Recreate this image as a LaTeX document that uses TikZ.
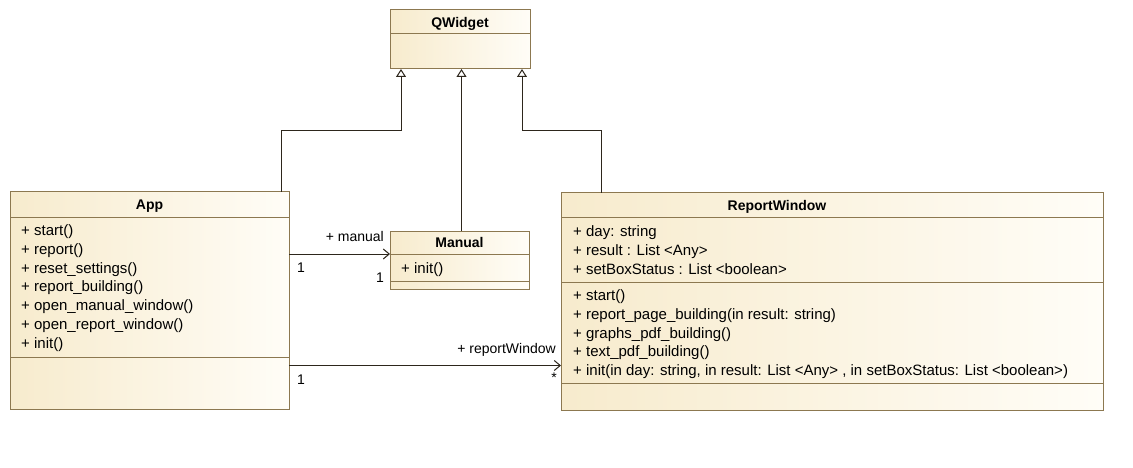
\documentclass[tikz,border=0pt]{standalone}
\usepackage{fontspec}
\setmainfont{Liberation Sans}
\usetikzlibrary{arrows.meta,positioning}
\definecolor{umlfill}{RGB}{247,235,205}
\definecolor{umlpale}{RGB}{255,253,247}
\definecolor{umlline}{RGB}{140,120,80}
\definecolor{wire}{RGB}{45,38,28}

\begin{document}
\begin{tikzpicture}[x=1pt,y=1pt,
  cls/.style={draw=umlline,line width=1pt,left color=umlfill,right color=umlpale,anchor=north west,inner sep=0pt,outer sep=0pt},
  hdr/.style={font=\fontsize{14}{16}\selectfont\bfseries,inner sep=0pt,text height=10pt,text depth=3pt},
  mem/.style={font=\fontsize{15}{18.8}\selectfont,align=left,inner sep=0pt,anchor=north west},
  sep/.style={draw=umlline,line width=1pt},
  inh/.style={draw=wire,line width=1pt,-{Triangle[open,length=8pt,width=10pt,fill=white]}},
  assoc/.style={draw=wire,line width=1pt,-{Straight Barb[length=6pt,width=10pt]}},
  lbl/.style={font=\fontsize{14}{16}\selectfont,inner sep=0pt}]
\useasboundingbox (0,0) rectangle (1133,-468);

% class boxes
\node [cls,minimum width=140pt,minimum height=59pt] (qw) at (390,-10) {};
\node [cls,minimum width=279pt,minimum height=217pt] (app) at (10,-192) {};
\node [cls,minimum width=139pt,minimum height=58pt] (man) at (390,-231) {};
\node [cls,minimum width=542pt,minimum height=217pt] (rw) at (561,-193) {};

\node [hdr,below=7pt of qw.north] (qwname) {QWidget};
\node [hdr,below=7pt of app.north] (appname) {App};
\node [hdr,below=6pt of man.north] (manname) {Manual};
\node [hdr,below=7pt of rw.north,xshift=-55pt] (rwname) {ReportWindow};

\draw [sep] ([yshift=-24pt]qw.north west) -- ([yshift=-24pt]qw.north east);
\draw [sep] ([yshift=-25pt]app.north west) -- ([yshift=-25pt]app.north east);
\draw [sep] ([yshift=-165pt]app.north west) -- ([yshift=-165pt]app.north east);
\draw [sep] ([yshift=-23pt]man.north west) -- ([yshift=-23pt]man.north east);
\draw [sep] ([yshift=-50pt]man.north west) -- ([yshift=-50pt]man.north east);
\draw [sep] ([yshift=-24pt]rw.north west) -- ([yshift=-24pt]rw.north east);
\draw [sep] ([yshift=-89pt]rw.north west) -- ([yshift=-89pt]rw.north east);
\draw [sep] ([yshift=-190pt]rw.north west) -- ([yshift=-190pt]rw.north east);

% members
\node [mem] (appops) at ([xshift=11pt,yshift=-32.5pt]app.north west) {+ start()\\+ report()\\+ reset\_settings()\\+ report\_building()\\+ open\_manual\_window()\\+ open\_report\_window()\\+ init()};
\node [mem] (manops) at ([xshift=11pt,yshift=-31.5pt]man.north west) {+ init()};
\node [mem] (rwattrs) at ([xshift=12pt,yshift=-32.5pt]rw.north west) {+ day: string\\+ result : List <Any>\\+ setBoxStatus : List <boolean>};
\node [mem] (rwops) at ([xshift=12pt,yshift=-96.5pt]rw.north west) {+ start()\\+ report\_page\_building(in result: string)\\+ graphs\_pdf\_building()\\+ text\_pdf\_building()\\+ init(in day: string, in result: List <Any> , in setBoxStatus: List <boolean>)};

% generalisation
\draw [inh] ([xshift=-8pt]app.north east) -- ++(0,61) -| ([xshift=-59pt]qw.south);
\draw [inh] ([xshift=2pt]man.north) -- ([xshift=2pt]man.north |- qw.south);
\draw [inh] ([xshift=40pt]rw.north west) -- ++(0,62) -| ([xshift=62pt]qw.south);

% associations
\draw [assoc] ([yshift=6pt]man.west -| app.east) -- ([yshift=6pt]man.west);
\draw [assoc] ([yshift=-65pt]app.east) -- ([yshift=-65pt]app.east -| rw.west);

\node [lbl,above left=18pt and 6pt of man.west] (manrole) {+ manual};
\node [lbl,above right=27.5pt and 8pt of app.east] (manfrom) {1};
\node [lbl,below left=13pt and 6pt of man.west] (manto) {1};
\node [lbl,below left=42pt and 5pt of rw.west] (rwrole) {+ reportWindow};
\node [lbl,below right=74.5pt and 8pt of app.east] (rwfrom) {1};
\node [lbl,below left=71.5pt and 4pt of rw.west] (rwto) {*};
\end{tikzpicture}
\end{document}
